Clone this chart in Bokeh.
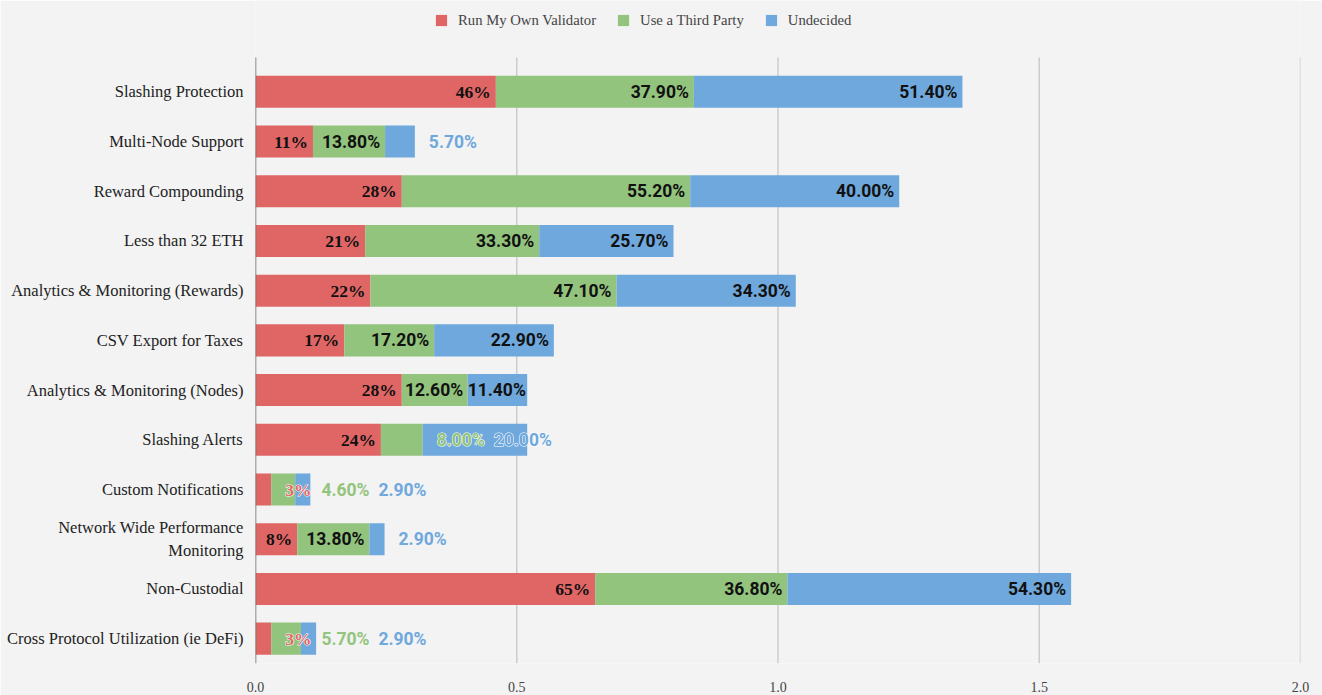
import numpy as np
from bokeh.plotting import figure
from bokeh.models import (Range1d, FixedTicker, Legend, LegendItem,
                          ColumnDataSource, Text)
from bokeh.core.properties import value
from bokeh.embed import file_html
from bokeh.resources import INLINE

# ---------------- data ----------------
categories = [
    "Slashing Protection",
    "Multi-Node Support",
    "Reward Compounding",
    "Less than 32 ETH",
    "Analytics & Monitoring (Rewards)",
    "CSV Export for Taxes",
    "Analytics & Monitoring (Nodes)",
    "Slashing Alerts",
    "Custom Notifications",
    "Network Wide Performance\nMonitoring",
    "Non-Custodial",
    "Cross Protocol Utilization (ie DeFi)",
]
run_own = [0.46, 0.11, 0.28, 0.21, 0.22, 0.17, 0.28, 0.24, 0.03, 0.08, 0.65, 0.03]
third_party = [0.379, 0.138, 0.552, 0.333, 0.471, 0.172, 0.126, 0.08, 0.046, 0.138, 0.368, 0.057]
undecided = [0.514, 0.057, 0.40, 0.257, 0.343, 0.229, 0.114, 0.20, 0.029, 0.029, 0.543, 0.029]
series_names = ["Run My Own Validator", "Use a Third Party", "Undecided"]
x_ticks = [0.0, 0.5, 1.0, 1.5, 2.0]

# ---------------- style ----------------
COLORS = ["#e06666", "#93c47d", "#6fa8dc"]
BG = "#f3f3f3"
SERIF = "Liberation Serif"
SANS = "Roboto"
W, H = 1322, 695
ML, MR, MB = 255, 22, 32
X_MAX = 2.0
n = len(categories)
ROW_PX = 49.7
PLOT_TOP = -0.69          # top of the plotting area (in row units)
HEADER_PX = 57            # legend band above the plotting area
y_top = PLOT_TOP - HEADER_PX / ROW_PX
frame_h = H - MB

p = figure(width=W, height=H, output_backend="svg", toolbar_location=None,
           x_range=Range1d(0, X_MAX), y_range=Range1d(n - 0.5, y_top),
           min_border_left=ML, min_border_right=MR,
           min_border_top=0, min_border_bottom=MB,
           background_fill_color=BG, border_fill_color=BG,
           outline_line_color=None, tools="")

# grid lines limited to the plotting area
grid_x = [t for t in x_ticks if t > 0]
p.segment(x0=grid_x, x1=grid_x, y0=[PLOT_TOP] * len(grid_x),
          y1=[n - 0.5] * len(grid_x), line_color="#cccccc", line_width=1.5)

# stacked bars
series = [run_own, third_party, undecided]
ys = list(range(n))
lefts = [0.0] * n
renderers = []
seg_bounds = []
for vals, col in zip(series, COLORS):
    rights = [l + v for l, v in zip(lefts, vals)]
    src = ColumnDataSource(dict(y=ys, left=lefts, right=rights))
    r = p.hbar(y="y", left="left", right="right", height=0.645, source=src,
               fill_color=col, line_color=None)
    renderers.append(r)
    seg_bounds.append((list(lefts), list(rights)))
    lefts = rights
totals = lefts

# baseline at zero
p.segment(x0=[0], x1=[0], y0=[PLOT_TOP], y1=[n - 0.5],
          line_color="#666666", line_width=1.5)

# ---------------- labels ----------------
FS = 17.5
frame_w = W - ML - MR
ppu = frame_w / X_MAX

sans_w = {d: .5615 for d in "0123456789"}
sans_w.update({".": .27, "%": .73})
serif_w = {d: .5 for d in "0123456789"}
serif_w["%"] = 1.0


def tw(s, table):
    return sum(table.get(c, .55) for c in s) * FS


labels = []  # (kind, x_px, row, text, font, colour, halo)
PAD = 5
GAP = 10
OUT_OFF = 14
for i in range(n):
    cursor = -1e9
    prev_out = False
    tot = totals[i] * ppu
    for k in range(3):
        v = series[k][i]
        txt = f"{round(v * 100):d}%" if k == 0 else f"{v * 100:.2f}%"
        font = SERIF if k == 0 else SANS
        w = tw(txt, serif_w if k == 0 else sans_w)
        s = seg_bounds[k][0][i] * ppu
        e = seg_bounds[k][1][i] * ppu
        room = e - s
        fits = w + 2 <= room
        if fits:
            pad = min(PAD, (room - w) / 2)
            need = cursor + (GAP if prev_out else 0)
            if e - pad - w >= need:
                labels.append(("in", e - pad, i, txt, font, "#111111", False))
                cursor = e
                prev_out = False
                continue
            left = cursor + GAP
        else:
            left = max(e + OUT_OFF, cursor + GAP)
        labels.append(("out", left, i, txt, font, COLORS[k], left < tot))
        cursor = left + w
        prev_out = True

text_props = Text.properties()
outline_prop = None
for cand in ("outline_color", "text_outline_color"):
    if cand in text_props:
        outline_prop = cand
        break


def draw(items, align, colour=None, **extra):
    for font in (SERIF, SANS):
        sub = [it for it in items if it[4] == font]
        if not sub:
            continue
        src = ColumnDataSource(dict(
            x=[it[1] / ppu for it in sub], y=[it[2] for it in sub],
            text=[it[3] for it in sub], color=[it[5] for it in sub]))
        p.text(x="x", y="y", text="text", source=src,
               text_color=colour if colour else "color",
               text_font=value(font), text_font_size=f"{FS}px",
               text_font_style="bold", text_baseline="middle",
               text_align=align, **extra)


draw([it for it in labels if it[0] == "in"], "right")
halo_kw = {outline_prop: "white"} if outline_prop else {}
draw([it for it in labels if it[0] == "out" and it[6]], "left", colour="white", **halo_kw)
draw([it for it in labels if it[0] == "out"], "left")

# ---------------- axes ----------------
p.xaxis.ticker = FixedTicker(ticks=x_ticks)
p.xaxis.major_label_overrides = {t: f"{t:.1f}" for t in x_ticks}
p.xaxis.axis_line_color = None
p.xaxis.major_tick_line_color = None
p.xaxis.minor_tick_line_color = None
p.xaxis.major_label_text_font = SERIF
p.xaxis.major_label_text_font_size = "14px"
p.xaxis.major_label_text_color = "#444444"
p.xaxis.major_label_standoff = 12

p.yaxis.ticker = FixedTicker(ticks=ys)
p.yaxis.major_label_overrides = {i: c for i, c in enumerate(categories)}
p.yaxis.axis_line_color = None
p.yaxis.major_tick_line_color = None
p.yaxis.minor_tick_line_color = None
p.yaxis.major_label_text_font = SERIF
p.yaxis.major_label_text_font_size = "16.5px"
p.yaxis.major_label_text_color = "#222222"
p.yaxis.major_label_standoff = 6

p.xgrid.grid_line_color = None
p.ygrid.grid_line_color = None

# ---------------- legend ----------------
legend = Legend(
    items=[LegendItem(label=nm, renderers=[r]) for nm, r in zip(series_names, renderers)],
    orientation="horizontal", location=(179, frame_h - 30),
    glyph_width=14, glyph_height=14, label_standoff=10, spacing=20,
    padding=0, margin=0, border_line_color=None, background_fill_alpha=0,
    label_text_font=SERIF, label_text_font_size="14.7px",
    label_text_color="#444444", label_height=20)
p.add_layout(legend, "center")

open("out.html", "w").write(file_html(p, INLINE))
